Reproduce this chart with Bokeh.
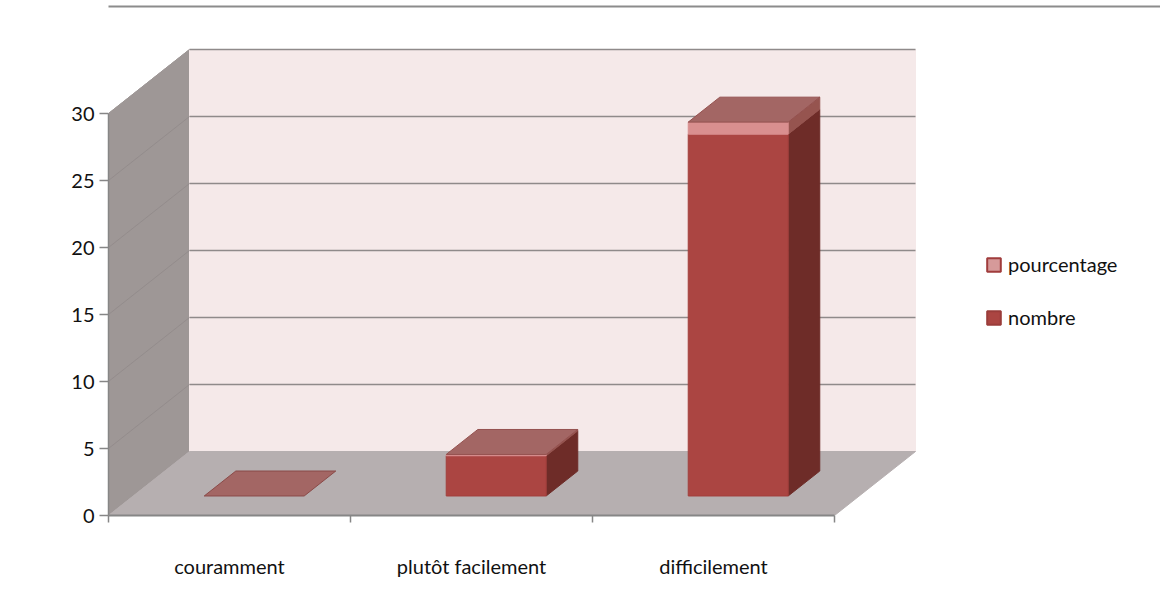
from bokeh.plotting import figure
from bokeh.models import FixedTicker, BoxAnnotation, Legend, LegendItem
from bokeh.embed import file_html
from bokeh.resources import INLINE

# --- data ---
categories = ["couramment", "plutôt facilement", "difficilement"]
nombre = [0, 3, 27]
pourcentage = [0, 0.1, 0.9]
y_ticks = [0, 5, 10, 15, 20, 25, 30]
series_names = ["pourcentage", "nombre"]

# --- layout / projection style ---
W, H = 1160, 591
LEFT, BOTTOM = 108, 76
UNIT_X = 242.0   # px per category
UNIT_Y = 13.4    # px per value unit
DX = 81 / UNIT_X  # depth shift in category units
DY = 64 / UNIT_Y  # depth shift in value units
BAR_W = 0.413
D0, D1 = 0.305, 0.695
FONT = "Lato"
FS = "20px"
N = len(categories)
YMAX = max(y_ticks)


def pr(x, y, d=0.0):
    return x + d * DX, y + d * DY


def poly(*pts):
    xy = [pr(*q) for q in pts]
    return [a for a, _ in xy], [b for _, b in xy]


def add(xs_ys, fill, line=None, lw=1.0):
    p.patch(xs_ys[0], xs_ys[1], fill_color=fill, line_color=line or fill, line_width=lw)


p = figure(width=W, height=H, output_backend="svg", toolbar_location=None,
           x_range=((0), (W - LEFT) / UNIT_X), y_range=(0, (H - BOTTOM) / UNIT_Y),
           min_border_left=LEFT, min_border_right=0, min_border_top=0, min_border_bottom=BOTTOM,
           background_fill_color="white", border_fill_color="white", outline_line_color=None)
p.grid.visible = False

# walls and floor
add(poly((0, 0, 0), (0, 0, 1), (0, YMAX, 1), (0, YMAX, 0)), "#9e9796")
add(poly((0, 0, 1), (N, 0, 1), (N, YMAX, 1), (0, YMAX, 1)), "#f5e9e9")
add(poly((0, 0, 0), (N, 0, 0), (N, 0, 1), (0, 0, 1)), "#b6afb0")

# gridlines on the side and back walls
for v in y_ticks:
    sx, sy = poly((0, v, 0), (0, v, 1))
    bx, by = poly((0, v, 1), (N, v, 1))
    if v > 0:
        p.line(bx, by, line_color="#8f8a8a", line_width=1.6)
        if v < YMAX:
            p.line(sx, sy, line_color="#8f8888", line_width=1.0, line_alpha=0.7)
    if v == YMAX:
        p.line(sx, sy, line_color="#9e9796", line_width=1.0)

# bars
NOMBRE_FILL, NOMBRE_SIDE, TOP_FILL = "#ab4542", "#6e2c28", "#a36664"
PCT_FILL, PCT_SIDE = "#d98f8f", "#96544f"
for i in range(N):
    x0 = i + 0.5 - BAR_W / 2
    x1 = i + 0.5 + BAR_W / 2
    n = nombre[i]
    t = n + pourcentage[i]
    # right sides
    if n > 0:
        add(poly((x1, 0, D0), (x1, 0, D1), (x1, n, D1), (x1, n, D0)), NOMBRE_SIDE)
        add(poly((x1, n, D0), (x1, n, D1), (x1, t, D1), (x1, t, D0)), PCT_SIDE)
        add(poly((x0, 0, D0), (x1, 0, D0), (x1, n, D0), (x0, n, D0)), NOMBRE_FILL, "#a33f3c")
        add(poly((x0, n, D0), (x1, n, D0), (x1, t, D0), (x0, t, D0)), PCT_FILL, PCT_FILL)
    add(poly((x0, t, D0), (x1, t, D0), (x1, t, D1), (x0, t, D1)), TOP_FILL,
        "#8a4a48" if n == 0 else "#94514f")

# axes
ax = p.yaxis[0]
ax.ticker = FixedTicker(ticks=y_ticks)
ax.bounds = (0, YMAX)
ax.major_tick_in = 0
ax.major_tick_out = 9
ax.minor_tick_line_color = None
ax.axis_line_color = "#868686"
ax.major_tick_line_color = "#868686"
ax.axis_line_width = 1.5
ax.major_tick_line_width = 1.5
ax.major_label_text_font = FONT
ax.major_label_text_font_size = FS
ax.major_label_text_color = "#111111"
ax.major_label_standoff = 5

bx = p.xaxis[0]
bx.ticker = FixedTicker(ticks=[i + 0.5 for i in range(N)], minor_ticks=list(range(N + 1)))
bx.major_label_overrides = {i + 0.5: c for i, c in enumerate(categories)}
bx.bounds = (0, N)
bx.major_tick_in = 0
bx.major_tick_out = 0
bx.minor_tick_in = 0
bx.minor_tick_out = 7
bx.minor_tick_line_color = "#868686"
bx.minor_tick_line_width = 1.5
bx.axis_line_color = "#868686"
bx.axis_line_width = 2
bx.major_label_text_font = FONT
bx.major_label_text_font_size = FS
bx.major_label_text_color = "#111111"
bx.major_label_standoff = 31

# legend
r_p = p.patches(xs=[[]], ys=[[]], fill_color="#d69a9a", line_color="#a03c3c", line_width=2)
r_n = p.patches(xs=[[]], ys=[[]], fill_color="#ab4542", line_color="#9a3c3a", line_width=2)
leg = Legend(items=[LegendItem(label=series_names[0], renderers=[r_p]),
                    LegendItem(label=series_names[1], renderers=[r_n])],
             location=(877, 186), orientation="vertical",
             background_fill_alpha=0, border_line_color=None,
             margin=0, padding=0, spacing=29, glyph_width=17, glyph_height=17,
             label_standoff=6, label_text_font=FONT, label_text_font_size=FS,
             label_text_color="#111111", label_height=18)
p.add_layout(leg)

# chart-area border: only the left and top edges are visible in the crop
p.add_layout(BoxAnnotation(left=1, right=3, top=5, bottom=7,
                           left_units="canvas", right_units="canvas", top_units="canvas", bottom_units="canvas",
                           fill_color="#8c8c8c", fill_alpha=1, line_color=None, level="overlay"))
p.add_layout(BoxAnnotation(left=1, right=3, top=5, bottom=H,
                           left_units="canvas", right_units="canvas", top_units="canvas", bottom_units="canvas",
                           fill_color="#8c8c8c", fill_alpha=1, line_color=None, level="overlay"))
p.add_layout(BoxAnnotation(left=1, right=W, top=5, bottom=7,
                           left_units="canvas", right_units="canvas", top_units="canvas", bottom_units="canvas",
                           fill_color="#8c8c8c", fill_alpha=1, line_color=None, level="overlay"))

open("out.html", "w").write(file_html(p, INLINE))
